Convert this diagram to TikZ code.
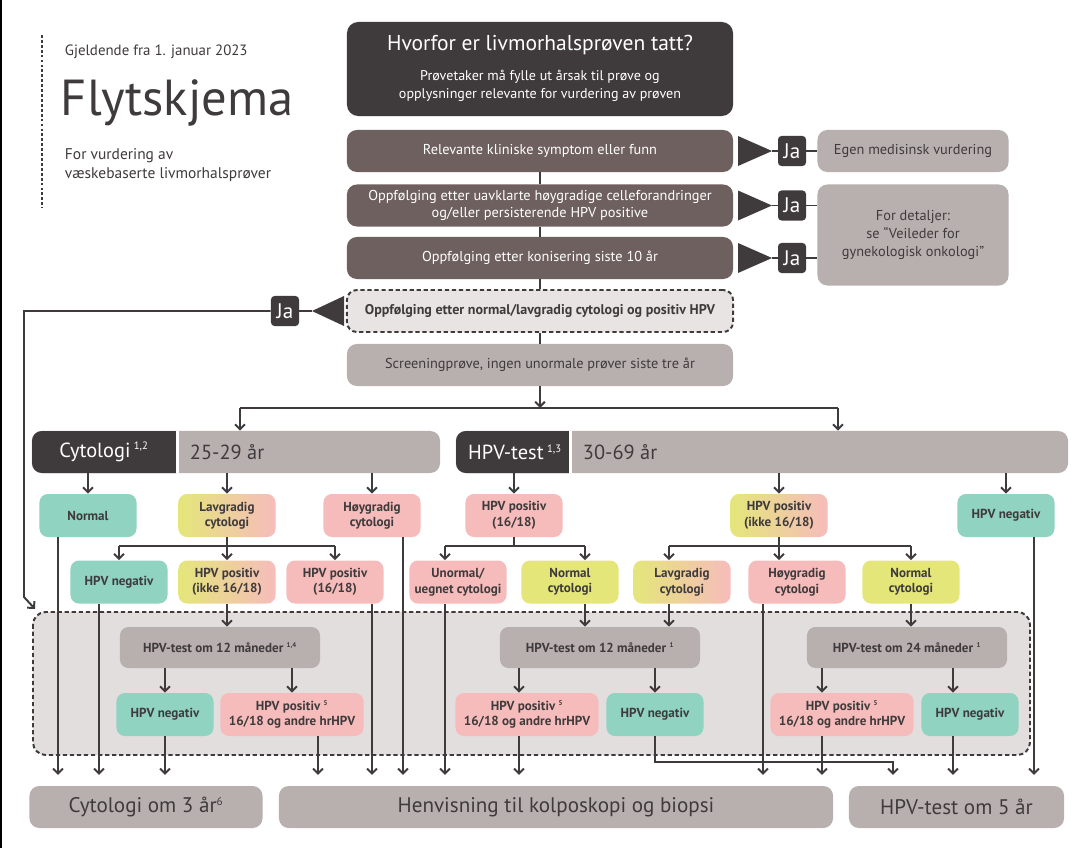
\documentclass[tikz,border=0pt]{standalone}
\usepackage{fontspec}
\setmainfont{PT Sans}
\usetikzlibrary{arrows.meta,positioning}

\definecolor{inkgrey}{HTML}{3F3B3C}
\definecolor{brownbox}{HTML}{6E605E}
\definecolor{greybox}{HTML}{B8B0AE}
\definecolor{palebox}{HTML}{E8E4E3}
\definecolor{zonefill}{HTML}{E2DEDD}
\definecolor{tealbox}{HTML}{8FD3C0}
\definecolor{pinkbox}{HTML}{F6BCBB}
\definecolor{yellowbox}{HTML}{E4E67A}

\newcommand{\noteref}[1]{\textsuperscript{\scalebox{0.75}{#1}}}

\tikzset{
  flowline/.style={draw=inkgrey, line width=1.4pt},
  flowarrow/.style={flowline, -{Straight Barb[length=3.5pt,width=7pt]}},
  exitarrow/.style={flowarrow, shorten >=0.27cm},
}

\begin{document}
\begin{tikzpicture}[
    x=0.025cm, y=-0.025cm,
    every node/.style={text=inkgrey},
    headbox/.style={rectangle, rounded corners=8pt, fill=inkgrey, minimum width=9.65cm, minimum height=2.35cm},
    stepbox/.style={rectangle, rounded corners=7pt, fill=brownbox, text=white, minimum width=9.65cm, minimum height=1.05cm, align=center, inner sep=1pt, font=\fontsize{10.2}{12}\selectfont},
    checkbox/.style={stepbox, fill=palebox, text=inkgrey, draw=inkgrey, line width=1.4pt, dash pattern=on 3pt off 2pt, font=\bfseries\fontsize{10}{12}\selectfont},
    screenbox/.style={stepbox, fill=greybox, text=inkgrey},
    sidebox/.style={rectangle, rounded corners=7pt, fill=greybox, minimum width=4.775cm, minimum height=1.05cm, align=center, inner sep=1pt, font=\fontsize{10.2}{12}\selectfont},
    jabox/.style={rectangle, rounded corners=2.5pt, fill=inkgrey, text=white, minimum width=0.7cm, minimum height=0.75cm, inner sep=0pt, font=\fontsize{15}{15}\selectfont},
    agebar/.style={rectangle, rounded corners=7pt, fill=greybox, minimum height=1.05cm},
    result/.style={rectangle, rounded corners=6pt, minimum width=2.425cm, minimum height=1.075cm, align=center, inner sep=1pt, font=\bfseries\fontsize{9.3}{11}\selectfont},
    tealres/.style={result, fill=tealbox},
    pinkres/.style={result, fill=pinkbox},
    yellowres/.style={result, fill=yellowbox},
    mixres/.style={result, left color=yellowbox, right color=pinkbox},
    widepink/.style={pinkres, minimum width=3.575cm},
    retest/.style={result, fill=greybox, minimum width=5cm, minimum height=1.025cm},
    endbox/.style={rectangle, rounded corners=7pt, fill=greybox, minimum height=1.05cm, font=\fontsize{15}{17}\selectfont}
  ]
  \fill[white] (0,0) rectangle (1092,848);
  \useasboundingbox (0,0) rectangle (1092,848);
  \fill[black] (0,0) rectangle (2,848);

  % Title
  \draw[inkgrey, line width=1.5pt, dash pattern=on 2pt off 1.5pt] (42,35) -- (42,208);
  \node[anchor=west, font=\fontsize{10.6}{12}\selectfont] (valid) at (60,52) {Gjeldende fra 1. januar 2023};
  \node[anchor=west, font=\fontsize{36}{40}\selectfont] (title) at (56,103) {Flytskjema};
  \node[anchor=north west, align=left, font=\fontsize{11}{13}\selectfont] (subtitle) at (60,144) {For vurdering av\\væskebaserte livmorhalsprøver};

  % Why was the sample taken
  \node[headbox] (why) at (540,69) {};
  \node[text=white, font=\fontsize{15.3}{18}\selectfont] (whytitle) at (540,45) {Hvorfor er livmorhalsprøven tatt?};
  \node[text=white, align=center, font=\fontsize{10}{13}\selectfont] (whynote) at (540,86) {Prøvetaker må fylle ut årsak til prøve og\\opplysninger relevante for vurdering av prøven};

  \node[stepbox] (symp) at (540,151) {Relevante kliniske symptom eller funn};
  \node[stepbox] (unclear) at (540,205.5) {Oppfølging etter uavklarte høygradige celleforandringer\\og/eller persisterende HPV positive};
  \node[stepbox] (coni) at (540,258) {Oppfølging etter konisering siste 10 år};
  \node[checkbox] (lowgr) at (540,311) {Oppfølging etter normal/lavgradig cytologi og positiv HPV};
  \node[screenbox] (screen) at (540,365) {Screeningprøve, ingen unormale prøver siste tre år};

  \draw[flowline] (symp) -- (unclear);
  \draw[flowline] (unclear) -- (coni);
  \draw[flowline] (coni) -- (lowgr);
  \draw[flowline] (lowgr) -- (screen);

  % Yes branches to the right
  \node[sidebox] (own) at (913,151) {Egen medisinsk vurdering};
  \node[sidebox, minimum height=2.525cm, font=\fontsize{10.2}{12.5}\selectfont] (detail) at (913,235) {For detaljer:\\se “Veileder for\\gynekologisk onkologi”};
  \foreach \y/\n in {151/ja1,205.5/ja2,258/ja3} {
    \fill[inkgrey] (738,\y-15) -- (772,\y) -- (738,\y+15) -- cycle;
    \coordinate (tip-\n) at (772,\y);
    \node[jabox] (\n) at (792,\y) {Ja};
    \draw[flowline] (tip-\n) -- (\n);
  }
  \draw[flowline] (ja1) -- (own);
  \draw[flowline] (ja2.east) -- (ja2.east -| detail.west);
  \draw[flowline] (ja3.east) -- (ja3.east -| detail.west);

  % Yes branch to the left
  \fill[inkgrey] (344,296) -- (312,311) -- (344,326) -- cycle;
  \coordinate (tip-ja4) at (312,311);
  \node[jabox] (ja4) at (285,311) {Ja};
  \draw[flowline] (tip-ja4) -- (ja4);
  \coordinate (loopin) at (35,609);
  \draw[flowarrow] (ja4.west) -| (24,597) -- (loopin);

  % Split into age groups
  \coordinate (split) at (540,408);
  \coordinate (splitL) at (240,408);
  \coordinate (splitR) at (838,408);
  \draw[flowarrow] (screen) -- (split);
  \draw[flowline] (splitL) -- (splitR);

  \node[agebar, minimum width=10.2cm] (cytbar) at (236,452) {};
  \fill[inkgrey] (176,431) [rounded corners=7pt] -- (32,431) -- (32,473) [sharp corners] -- (176,473) -- cycle;
  \fill[white] (176,431) rectangle (179,473);
  \node[text=white, font=\fontsize{14.5}{16}\selectfont] (cyttxt) at (104,452) {Cytologi\,\noteref{1,2}};
  \node[anchor=west, font=\fontsize{14.5}{16}\selectfont] (cytage) at (185,452) {25-29 år};

  \node[agebar, minimum width=15.3cm] (hpvbar) at (762,452) {};
  \fill[inkgrey] (569,431) [rounded corners=7pt] -- (456,431) -- (456,473) [sharp corners] -- (569,473) -- cycle;
  \fill[white] (569,431) rectangle (572,473);
  \node[text=white, font=\fontsize{14.5}{16}\selectfont] (hpvtxt) at (515,452) {HPV-test\,\noteref{1,3}};
  \node[anchor=west, font=\fontsize{14.5}{16}\selectfont] (hpvage) at (578,452) {30-69 år};

  \draw[flowarrow] (splitL) -- (splitL |- cytbar.north);
  \draw[flowarrow] (splitR) -- (splitR |- hpvbar.north);

  % Follow-up zone
  \draw[flowline, dash pattern=on 3pt off 2pt, fill=zonefill, rounded corners=9pt] (33,612) rectangle (1030,755);

  % Cytology branch
  \node[tealres] (cnorm) at (88,515.5) {Normal};
  \node[mixres] (clow) at (227,515.5) {Lavgradig\\cytologi};
  \node[pinkres] (chigh) at (372,515.5) {Høygradig\\cytologi};
  \foreach \n in {cnorm,clow,chigh}
    \draw[flowarrow] (\n |- cytbar.south) -- (\n);

  \node[tealres] (cneg) at (119,582) {HPV negativ};
  \node[mixres] (cpos) at (227,582) {HPV positiv\\(ikke 16/18)};
  \node[pinkres] (cpos16) at (335,582) {HPV positiv\\(16/18)};
  \coordinate (cfork) at (227,546);
  \draw[flowline] (clow) -- (cfork);
  \draw[flowline] (cneg |- cfork) -- (cpos16 |- cfork);
  \foreach \n in {cneg,cpos,cpos16}
    \draw[flowarrow] (\n |- cfork) -- (\n);

  % HPV branch
  \node[pinkres] (hpos16) at (514,515.5) {HPV positiv\\(16/18)};
  \node[mixres] (hposx) at (779,515.5) {HPV positiv\\(ikke 16/18)};
  \node[tealres] (hneg) at (1006,515.5) {HPV negativ};
  \foreach \n in {hpos16,hposx,hneg}
    \draw[flowarrow] (\n |- hpvbar.south) -- (\n);

  \node[pinkres] (habn) at (458,582) {Unormal/\\uegnet cytologi};
  \node[yellowres] (hnorm) at (570,582) {Normal\\cytologi};
  \node[mixres] (hlow) at (682,582) {Lavgradig\\cytologi};
  \node[pinkres] (hhigh) at (797,582) {Høygradig\\cytologi};
  \node[yellowres] (hnormb) at (911,582) {Normal\\cytologi};

  \coordinate (hA1) at (445,546);
  \coordinate (hA2) at (585,546);
  \draw[flowline] (hpos16) -- (hpos16 |- hA1);
  \draw[flowline] (hA1) -- (hA2);
  \draw[flowarrow] (hA1) -- (hA1 |- habn.north);
  \draw[flowarrow] (hA2) -- (hA2 |- hnorm.north);

  \coordinate (hB1) at (669,546);
  \coordinate (hB2) at (779,546);
  \coordinate (hB3) at (911,546);
  \draw[flowline] (hposx) -- (hB2);
  \draw[flowline] (hB1) -- (hB3);
  \draw[flowarrow] (hB1) -- (hB1 |- hlow.north);
  \draw[flowarrow] (hB2) -- (hB2 |- hhigh.north);
  \draw[flowarrow] (hB3) -- (hB3 |- hnormb.north);

  % Retests
  \node[retest] (t12a) at (220,647.5) {HPV-test om 12 måneder \noteref{1,4}};
  \node[tealres] (zneg1) at (165,714.5) {HPV negativ};
  \node[widepink] (zpos1) at (292,714.5) {HPV positiv \noteref{5}\\16/18 og andre hrHPV};

  \node[retest] (t12b) at (600,647.5) {HPV-test om 12 måneder \noteref{1}};
  \node[widepink] (zpos2) at (527,714.5) {HPV positiv \noteref{5}\\16/18 og andre hrHPV};
  \node[tealres] (zneg2) at (655,714.5) {HPV negativ};

  \node[retest] (t24) at (907,647.5) {HPV-test om 24 måneder \noteref{1}};
  \node[widepink] (zpos3) at (842,714.5) {HPV positiv \noteref{5}\\16/18 og andre hrHPV};
  \node[tealres] (zneg3) at (970,714.5) {HPV negativ};

  \draw[flowarrow] (cpos) -- (cpos |- t12a.north);
  \draw[flowarrow] (hA2 |- hnorm.south) -- (hA2 |- t12b.north);
  \draw[flowarrow] (hB1 |- hlow.south) -- (hB1 |- t12b.north);
  \draw[flowarrow] (hB3 |- hnormb.south) -- (hB3 |- t24.north);

  \draw[flowarrow] (zneg1 |- t12a.south) -- (zneg1);
  \draw[flowarrow] (zpos1 |- t12a.south) -- (zpos1);
  \draw[flowarrow] (t12b.south -| 519,0) -- (zpos2.north -| 519,0);
  \draw[flowarrow] (zneg2 |- t12b.south) -- (zneg2);
  \draw[flowarrow] (t24.south -| 822,0) -- (zpos3.north -| 822,0);
  \draw[flowarrow] (t24.south -| 953,0) -- (zneg3.north -| 953,0);

  % Outcomes
  \node[endbox, minimum width=5.825cm] (cyt3) at (146,807) {Cytologi om 3 år\noteref{6}};
  \node[endbox, minimum width=13.85cm] (refer) at (556,807) {Henvisning til kolposkopi og biopsi};
  \node[endbox, minimum width=5.375cm] (hpv5) at (956.5,807) {HPV-test om 5 år};

  \foreach \src/\xx/\dst in {cnorm/58/cyt3, cneg/99/cyt3, zneg1/165/cyt3, zpos1/318/refer,
      cpos16/372/refer, chigh/403/refer, habn/445/refer, zpos2/519/refer, hhigh/763/refer,
      zpos3/822/refer, zneg3/953/hpv5, hneg/1034/hpv5}
    \draw[exitarrow] (\src.south -| \xx,0) -- (\dst.north -| \xx,0);

  \coordinate (jog) at (893,762);
  \draw[exitarrow] (zneg2) |- (jog) -- (jog |- hpv5.north);
\end{tikzpicture}
\end{document}
